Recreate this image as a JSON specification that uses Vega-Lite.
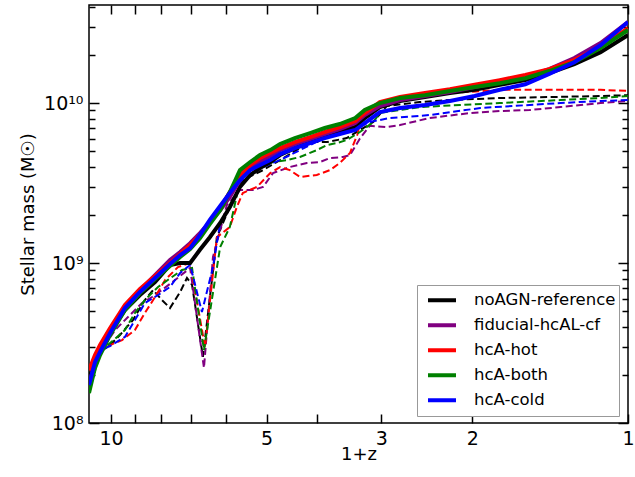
{
  "$schema": "https://vega.github.io/schema/vega-lite/v6.json",
  "width": 539,
  "height": 418,
  "autosize": {"type": "none"},
  "padding": {"left": 89, "top": 5, "right": 7, "bottom": 54},
  "background": "white",
  "config": {"view": {"stroke": "black", "strokeWidth": 1.5}, "font": "DejaVu Sans"},
  "datasets": {
    "curves": [
      {"model":"noAGN-reference","line":"solid","z1":11.03,"mass":1.86e8},
      {"model":"noAGN-reference","line":"solid","z1":10.74,"mass":2.47e8},
      {"model":"noAGN-reference","line":"solid","z1":10.50,"mass":2.86e8},
      {"model":"noAGN-reference","line":"solid","z1":10.04,"mass":3.70e8},
      {"model":"noAGN-reference","line":"solid","z1":9.40,"mass":5.08e8},
      {"model":"noAGN-reference","line":"solid","z1":8.79,"mass":6.31e8},
      {"model":"noAGN-reference","line":"solid","z1":8.22,"mass":7.61e8},
      {"model":"noAGN-reference","line":"solid","z1":7.69,"mass":9.72e8},
      {"model":"noAGN-reference","line":"solid","z1":7.35,"mass":1.00e9},
      {"model":"noAGN-reference","line":"solid","z1":7.03,"mass":1.00e9},
      {"model":"noAGN-reference","line":"solid","z1":6.73,"mass":1.21e9},
      {"model":"noAGN-reference","line":"solid","z1":6.44,"mass":1.45e9},
      {"model":"noAGN-reference","line":"solid","z1":6.15,"mass":1.78e9},
      {"model":"noAGN-reference","line":"solid","z1":5.89,"mass":2.24e9},
      {"model":"noAGN-reference","line":"solid","z1":5.63,"mass":2.99e9},
      {"model":"noAGN-reference","line":"solid","z1":5.38,"mass":3.55e9},
      {"model":"noAGN-reference","line":"solid","z1":5.15,"mass":3.92e9},
      {"model":"noAGN-reference","line":"solid","z1":4.92,"mass":4.28e9},
      {"model":"noAGN-reference","line":"solid","z1":4.71,"mass":4.73e9},
      {"model":"noAGN-reference","line":"solid","z1":4.41,"mass":5.23e9},
      {"model":"noAGN-reference","line":"solid","z1":4.12,"mass":5.70e9},
      {"model":"noAGN-reference","line":"solid","z1":3.86,"mass":6.13e9},
      {"model":"noAGN-reference","line":"solid","z1":3.61,"mass":6.59e9},
      {"model":"noAGN-reference","line":"solid","z1":3.37,"mass":7.08e9},
      {"model":"noAGN-reference","line":"solid","z1":3.23,"mass":8.06e9},
      {"model":"noAGN-reference","line":"solid","z1":3.02,"mass":9.44e9},
      {"model":"noAGN-reference","line":"solid","z1":2.76,"mass":1.03e10},
      {"model":"noAGN-reference","line":"solid","z1":2.47,"mass":1.09e10},
      {"model":"noAGN-reference","line":"solid","z1":2.21,"mass":1.155e10},
      {"model":"noAGN-reference","line":"solid","z1":1.98,"mass":1.21e10},
      {"model":"noAGN-reference","line":"solid","z1":1.77,"mass":1.30e10},
      {"model":"noAGN-reference","line":"solid","z1":1.58,"mass":1.39e10},
      {"model":"noAGN-reference","line":"solid","z1":1.42,"mass":1.54e10},
      {"model":"noAGN-reference","line":"solid","z1":1.27,"mass":1.75e10},
      {"model":"noAGN-reference","line":"solid","z1":1.13,"mass":2.08e10},
      {"model":"noAGN-reference","line":"solid","z1":1.00,"mass":2.66e10},

      {"model":"fiducial-hcAL-cf","line":"solid","z1":11.03,"mass":1.73e8},
      {"model":"fiducial-hcAL-cf","line":"solid","z1":10.74,"mass":2.40e8},
      {"model":"fiducial-hcAL-cf","line":"solid","z1":10.50,"mass":2.86e8},
      {"model":"fiducial-hcAL-cf","line":"solid","z1":10.04,"mass":3.81e8},
      {"model":"fiducial-hcAL-cf","line":"solid","z1":9.40,"mass":5.31e8},
      {"model":"fiducial-hcAL-cf","line":"solid","z1":8.79,"mass":6.78e8},
      {"model":"fiducial-hcAL-cf","line":"solid","z1":8.22,"mass":8.41e8},
      {"model":"fiducial-hcAL-cf","line":"solid","z1":7.69,"mass":1.044e9},
      {"model":"fiducial-hcAL-cf","line":"solid","z1":7.35,"mass":1.17e9},
      {"model":"fiducial-hcAL-cf","line":"solid","z1":7.03,"mass":1.33e9},
      {"model":"fiducial-hcAL-cf","line":"solid","z1":6.73,"mass":1.54e9},
      {"model":"fiducial-hcAL-cf","line":"solid","z1":6.44,"mass":1.80e9},
      {"model":"fiducial-hcAL-cf","line":"solid","z1":6.15,"mass":2.14e9},
      {"model":"fiducial-hcAL-cf","line":"solid","z1":5.89,"mass":2.59e9},
      {"model":"fiducial-hcAL-cf","line":"solid","z1":5.63,"mass":3.30e9},
      {"model":"fiducial-hcAL-cf","line":"solid","z1":5.38,"mass":3.92e9},
      {"model":"fiducial-hcAL-cf","line":"solid","z1":5.15,"mass":4.28e9},
      {"model":"fiducial-hcAL-cf","line":"solid","z1":4.92,"mass":4.66e9},
      {"model":"fiducial-hcAL-cf","line":"solid","z1":4.71,"mass":5.08e9},
      {"model":"fiducial-hcAL-cf","line":"solid","z1":4.41,"mass":5.54e9},
      {"model":"fiducial-hcAL-cf","line":"solid","z1":4.12,"mass":5.96e9},
      {"model":"fiducial-hcAL-cf","line":"solid","z1":3.86,"mass":6.40e9},
      {"model":"fiducial-hcAL-cf","line":"solid","z1":3.61,"mass":6.88e9},
      {"model":"fiducial-hcAL-cf","line":"solid","z1":3.37,"mass":7.50e9},
      {"model":"fiducial-hcAL-cf","line":"solid","z1":3.23,"mass":8.41e9},
      {"model":"fiducial-hcAL-cf","line":"solid","z1":3.02,"mass":9.58e9},
      {"model":"fiducial-hcAL-cf","line":"solid","z1":2.76,"mass":1.044e10},
      {"model":"fiducial-hcAL-cf","line":"solid","z1":2.47,"mass":1.106e10},
      {"model":"fiducial-hcAL-cf","line":"solid","z1":2.21,"mass":1.17e10},
      {"model":"fiducial-hcAL-cf","line":"solid","z1":1.98,"mass":1.26e10},
      {"model":"fiducial-hcAL-cf","line":"solid","z1":1.77,"mass":1.35e10},
      {"model":"fiducial-hcAL-cf","line":"solid","z1":1.58,"mass":1.45e10},
      {"model":"fiducial-hcAL-cf","line":"solid","z1":1.42,"mass":1.63e10},
      {"model":"fiducial-hcAL-cf","line":"solid","z1":1.27,"mass":1.91e10},
      {"model":"fiducial-hcAL-cf","line":"solid","z1":1.13,"mass":2.37e10},
      {"model":"fiducial-hcAL-cf","line":"solid","z1":1.00,"mass":3.21e10},

      {"model":"hcA-hot","line":"solid","z1":11.03,"mass":2.14e8},
      {"model":"hcA-hot","line":"solid","z1":10.74,"mass":2.66e8},
      {"model":"hcA-hot","line":"solid","z1":10.50,"mass":3.07e8},
      {"model":"hcA-hot","line":"solid","z1":10.04,"mass":3.92e8},
      {"model":"hcA-hot","line":"solid","z1":9.40,"mass":5.46e8},
      {"model":"hcA-hot","line":"solid","z1":8.79,"mass":6.88e8},
      {"model":"hcA-hot","line":"solid","z1":8.22,"mass":8.29e8},
      {"model":"hcA-hot","line":"solid","z1":7.69,"mass":1.00e9},
      {"model":"hcA-hot","line":"solid","z1":7.35,"mass":1.138e9},
      {"model":"hcA-hot","line":"solid","z1":7.03,"mass":1.296e9},
      {"model":"hcA-hot","line":"solid","z1":6.73,"mass":1.50e9},
      {"model":"hcA-hot","line":"solid","z1":6.44,"mass":1.80e9},
      {"model":"hcA-hot","line":"solid","z1":6.15,"mass":2.21e9},
      {"model":"hcA-hot","line":"solid","z1":5.89,"mass":2.78e9},
      {"model":"hcA-hot","line":"solid","z1":5.63,"mass":3.55e9},
      {"model":"hcA-hot","line":"solid","z1":5.38,"mass":4.10e9},
      {"model":"hcA-hot","line":"solid","z1":5.15,"mass":4.53e9},
      {"model":"hcA-hot","line":"solid","z1":4.92,"mass":4.87e9},
      {"model":"hcA-hot","line":"solid","z1":4.71,"mass":5.23e9},
      {"model":"hcA-hot","line":"solid","z1":4.41,"mass":5.70e9},
      {"model":"hcA-hot","line":"solid","z1":4.12,"mass":6.13e9},
      {"model":"hcA-hot","line":"solid","z1":3.86,"mass":6.59e9},
      {"model":"hcA-hot","line":"solid","z1":3.61,"mass":7.08e9},
      {"model":"hcA-hot","line":"solid","z1":3.37,"mass":7.72e9},
      {"model":"hcA-hot","line":"solid","z1":3.23,"mass":8.66e9},
      {"model":"hcA-hot","line":"solid","z1":3.02,"mass":1.014e10},
      {"model":"hcA-hot","line":"solid","z1":2.76,"mass":1.09e10},
      {"model":"hcA-hot","line":"solid","z1":2.47,"mass":1.155e10},
      {"model":"hcA-hot","line":"solid","z1":2.21,"mass":1.22e10},
      {"model":"hcA-hot","line":"solid","z1":1.98,"mass":1.30e10},
      {"model":"hcA-hot","line":"solid","z1":1.77,"mass":1.39e10},
      {"model":"hcA-hot","line":"solid","z1":1.58,"mass":1.50e10},
      {"model":"hcA-hot","line":"solid","z1":1.42,"mass":1.63e10},
      {"model":"hcA-hot","line":"solid","z1":1.27,"mass":1.86e10},
      {"model":"hcA-hot","line":"solid","z1":1.13,"mass":2.24e10},
      {"model":"hcA-hot","line":"solid","z1":1.00,"mass":2.94e10},

      {"model":"hcA-both","line":"solid","z1":11.03,"mass":1.54e8},
      {"model":"hcA-both","line":"solid","z1":10.74,"mass":2.21e8},
      {"model":"hcA-both","line":"solid","z1":10.50,"mass":2.66e8},
      {"model":"hcA-both","line":"solid","z1":10.04,"mass":3.55e8},
      {"model":"hcA-both","line":"solid","z1":9.40,"mass":5.08e8},
      {"model":"hcA-both","line":"solid","z1":8.79,"mass":6.49e8},
      {"model":"hcA-both","line":"solid","z1":8.22,"mass":7.94e8},
      {"model":"hcA-both","line":"solid","z1":7.69,"mass":9.58e8},
      {"model":"hcA-both","line":"solid","z1":7.35,"mass":1.09e9},
      {"model":"hcA-both","line":"solid","z1":7.03,"mass":1.223e9},
      {"model":"hcA-both","line":"solid","z1":6.73,"mass":1.43e9},
      {"model":"hcA-both","line":"solid","z1":6.44,"mass":1.75e9},
      {"model":"hcA-both","line":"solid","z1":6.15,"mass":2.14e9},
      {"model":"hcA-both","line":"solid","z1":5.89,"mass":2.78e9},
      {"model":"hcA-both","line":"solid","z1":5.63,"mass":3.81e9},
      {"model":"hcA-both","line":"solid","z1":5.38,"mass":4.28e9},
      {"model":"hcA-both","line":"solid","z1":5.15,"mass":4.73e9},
      {"model":"hcA-both","line":"solid","z1":4.92,"mass":5.08e9},
      {"model":"hcA-both","line":"solid","z1":4.71,"mass":5.54e9},
      {"model":"hcA-both","line":"solid","z1":4.41,"mass":6.04e9},
      {"model":"hcA-both","line":"solid","z1":4.12,"mass":6.49e9},
      {"model":"hcA-both","line":"solid","z1":3.86,"mass":6.98e9},
      {"model":"hcA-both","line":"solid","z1":3.61,"mass":7.39e9},
      {"model":"hcA-both","line":"solid","z1":3.37,"mass":8.06e9},
      {"model":"hcA-both","line":"solid","z1":3.23,"mass":9.04e9},
      {"model":"hcA-both","line":"solid","z1":3.02,"mass":1.00e10},
      {"model":"hcA-both","line":"solid","z1":2.76,"mass":1.075e10},
      {"model":"hcA-both","line":"solid","z1":2.47,"mass":1.12e10},
      {"model":"hcA-both","line":"solid","z1":2.21,"mass":1.19e10},
      {"model":"hcA-both","line":"solid","z1":1.98,"mass":1.26e10},
      {"model":"hcA-both","line":"solid","z1":1.77,"mass":1.33e10},
      {"model":"hcA-both","line":"solid","z1":1.58,"mass":1.43e10},
      {"model":"hcA-both","line":"solid","z1":1.42,"mass":1.585e10},
      {"model":"hcA-both","line":"solid","z1":1.27,"mass":1.80e10},
      {"model":"hcA-both","line":"solid","z1":1.13,"mass":2.21e10},
      {"model":"hcA-both","line":"solid","z1":1.00,"mass":2.86e10},

      {"model":"hcA-cold","line":"solid","z1":11.03,"mass":1.73e8},
      {"model":"hcA-cold","line":"solid","z1":10.74,"mass":2.40e8},
      {"model":"hcA-cold","line":"solid","z1":10.50,"mass":2.78e8},
      {"model":"hcA-cold","line":"solid","z1":10.04,"mass":3.65e8},
      {"model":"hcA-cold","line":"solid","z1":9.40,"mass":5.23e8},
      {"model":"hcA-cold","line":"solid","z1":8.79,"mass":6.59e8},
      {"model":"hcA-cold","line":"solid","z1":8.22,"mass":8.06e8},
      {"model":"hcA-cold","line":"solid","z1":7.69,"mass":9.86e8},
      {"model":"hcA-cold","line":"solid","z1":7.35,"mass":1.122e9},
      {"model":"hcA-cold","line":"solid","z1":7.03,"mass":1.24e9},
      {"model":"hcA-cold","line":"solid","z1":6.73,"mass":1.50e9},
      {"model":"hcA-cold","line":"solid","z1":6.44,"mass":1.86e9},
      {"model":"hcA-cold","line":"solid","z1":6.15,"mass":2.27e9},
      {"model":"hcA-cold","line":"solid","z1":5.89,"mass":2.74e9},
      {"model":"hcA-cold","line":"solid","z1":5.63,"mass":3.30e9},
      {"model":"hcA-cold","line":"solid","z1":5.38,"mass":3.81e9},
      {"model":"hcA-cold","line":"solid","z1":5.15,"mass":4.10e9},
      {"model":"hcA-cold","line":"solid","z1":4.92,"mass":4.40e9},
      {"model":"hcA-cold","line":"solid","z1":4.71,"mass":4.80e9},
      {"model":"hcA-cold","line":"solid","z1":4.41,"mass":5.23e9},
      {"model":"hcA-cold","line":"solid","z1":4.12,"mass":5.62e9},
      {"model":"hcA-cold","line":"solid","z1":3.86,"mass":6.04e9},
      {"model":"hcA-cold","line":"solid","z1":3.61,"mass":6.40e9},
      {"model":"hcA-cold","line":"solid","z1":3.37,"mass":6.78e9},
      {"model":"hcA-cold","line":"solid","z1":3.23,"mass":7.50e9},
      {"model":"hcA-cold","line":"solid","z1":3.02,"mass":8.78e9},
      {"model":"hcA-cold","line":"solid","z1":2.76,"mass":9.31e9},
      {"model":"hcA-cold","line":"solid","z1":2.47,"mass":9.72e9},
      {"model":"hcA-cold","line":"solid","z1":2.21,"mass":1.03e10},
      {"model":"hcA-cold","line":"solid","z1":1.98,"mass":1.106e10},
      {"model":"hcA-cold","line":"solid","z1":1.77,"mass":1.21e10},
      {"model":"hcA-cold","line":"solid","z1":1.58,"mass":1.31e10},
      {"model":"hcA-cold","line":"solid","z1":1.42,"mass":1.52e10},
      {"model":"hcA-cold","line":"solid","z1":1.27,"mass":1.80e10},
      {"model":"hcA-cold","line":"solid","z1":1.13,"mass":2.30e10},
      {"model":"hcA-cold","line":"solid","z1":1.00,"mass":3.21e10},

      {"model":"noAGN-reference","line":"dashed","z1":11.03,"mass":1.86e8},
      {"model":"noAGN-reference","line":"dashed","z1":10.50,"mass":2.78e8},
      {"model":"noAGN-reference","line":"dashed","z1":10.04,"mass":3.07e8},
      {"model":"noAGN-reference","line":"dashed","z1":9.61,"mass":3.55e8},
      {"model":"noAGN-reference","line":"dashed","z1":9.07,"mass":4.40e8},
      {"model":"noAGN-reference","line":"dashed","z1":8.60,"mass":5.87e8},
      {"model":"noAGN-reference","line":"dashed","z1":8.29,"mass":6.78e8},
      {"model":"noAGN-reference","line":"dashed","z1":7.97,"mass":5.87e8},
      {"model":"noAGN-reference","line":"dashed","z1":7.69,"mass":5.23e8},
      {"model":"noAGN-reference","line":"dashed","z1":7.35,"mass":6.59e8},
      {"model":"noAGN-reference","line":"dashed","z1":7.13,"mass":8.06e8},
      {"model":"noAGN-reference","line":"dashed","z1":6.97,"mass":7.29e8},
      {"model":"noAGN-reference","line":"dashed","z1":6.64,"mass":2.59e8},
      {"model":"noAGN-reference","line":"dashed","z1":6.24,"mass":1.45e9},
      {"model":"noAGN-reference","line":"dashed","z1":5.89,"mass":2.24e9},
      {"model":"noAGN-reference","line":"dashed","z1":5.56,"mass":3.30e9},
      {"model":"noAGN-reference","line":"dashed","z1":5.08,"mass":3.81e9},
      {"model":"noAGN-reference","line":"dashed","z1":4.71,"mass":4.40e9},
      {"model":"noAGN-reference","line":"dashed","z1":4.31,"mass":5.23e9},
      {"model":"noAGN-reference","line":"dashed","z1":4.07,"mass":5.70e9},
      {"model":"noAGN-reference","line":"dashed","z1":3.82,"mass":5.70e9},
      {"model":"noAGN-reference","line":"dashed","z1":3.50,"mass":6.04e9},
      {"model":"noAGN-reference","line":"dashed","z1":3.30,"mass":6.78e9},
      {"model":"noAGN-reference","line":"dashed","z1":3.11,"mass":7.61e9},
      {"model":"noAGN-reference","line":"dashed","z1":2.93,"mass":9.58e9},
      {"model":"noAGN-reference","line":"dashed","z1":2.53,"mass":1.014e10},
      {"model":"noAGN-reference","line":"dashed","z1":2.21,"mass":1.044e10},
      {"model":"noAGN-reference","line":"dashed","z1":1.77,"mass":1.075e10},
      {"model":"noAGN-reference","line":"dashed","z1":1.42,"mass":1.09e10},
      {"model":"noAGN-reference","line":"dashed","z1":1.13,"mass":1.106e10},
      {"model":"noAGN-reference","line":"dashed","z1":1.00,"mass":1.12e10},

      {"model":"fiducial-hcAL-cf","line":"dashed","z1":11.03,"mass":1.73e8},
      {"model":"fiducial-hcAL-cf","line":"dashed","z1":10.50,"mass":2.78e8},
      {"model":"fiducial-hcAL-cf","line":"dashed","z1":9.82,"mass":3.81e8},
      {"model":"fiducial-hcAL-cf","line":"dashed","z1":9.27,"mass":4.60e8},
      {"model":"fiducial-hcAL-cf","line":"dashed","z1":8.71,"mass":5.62e8},
      {"model":"fiducial-hcAL-cf","line":"dashed","z1":8.33,"mass":6.13e8},
      {"model":"fiducial-hcAL-cf","line":"dashed","z1":7.97,"mass":6.78e8},
      {"model":"fiducial-hcAL-cf","line":"dashed","z1":7.52,"mass":7.83e8},
      {"model":"fiducial-hcAL-cf","line":"dashed","z1":7.03,"mass":9.31e8},
      {"model":"fiducial-hcAL-cf","line":"dashed","z1":6.61,"mass":2.21e8},
      {"model":"fiducial-hcAL-cf","line":"dashed","z1":6.35,"mass":1.09e9},
      {"model":"fiducial-hcAL-cf","line":"dashed","z1":5.97,"mass":2.30e9},
      {"model":"fiducial-hcAL-cf","line":"dashed","z1":5.63,"mass":2.86e9},
      {"model":"fiducial-hcAL-cf","line":"dashed","z1":5.31,"mass":2.86e9},
      {"model":"fiducial-hcAL-cf","line":"dashed","z1":5.08,"mass":2.99e9},
      {"model":"fiducial-hcAL-cf","line":"dashed","z1":4.86,"mass":3.65e9},
      {"model":"fiducial-hcAL-cf","line":"dashed","z1":4.51,"mass":3.98e9},
      {"model":"fiducial-hcAL-cf","line":"dashed","z1":4.18,"mass":4.22e9},
      {"model":"fiducial-hcAL-cf","line":"dashed","z1":3.94,"mass":4.28e9},
      {"model":"fiducial-hcAL-cf","line":"dashed","z1":3.77,"mass":4.53e9},
      {"model":"fiducial-hcAL-cf","line":"dashed","z1":3.56,"mass":4.60e9},
      {"model":"fiducial-hcAL-cf","line":"dashed","z1":3.45,"mass":4.73e9},
      {"model":"fiducial-hcAL-cf","line":"dashed","z1":3.30,"mass":6.00e9},
      {"model":"fiducial-hcAL-cf","line":"dashed","z1":3.16,"mass":7.20e9},
      {"model":"fiducial-hcAL-cf","line":"dashed","z1":2.93,"mass":7.08e9},
      {"model":"fiducial-hcAL-cf","line":"dashed","z1":2.76,"mass":7.29e9},
      {"model":"fiducial-hcAL-cf","line":"dashed","z1":2.42,"mass":8.06e9},
      {"model":"fiducial-hcAL-cf","line":"dashed","z1":2.02,"mass":8.66e9},
      {"model":"fiducial-hcAL-cf","line":"dashed","z1":1.77,"mass":8.91e9},
      {"model":"fiducial-hcAL-cf","line":"dashed","z1":1.55,"mass":9.04e9},
      {"model":"fiducial-hcAL-cf","line":"dashed","z1":1.35,"mass":9.44e9},
      {"model":"fiducial-hcAL-cf","line":"dashed","z1":1.13,"mass":1.00e10},
      {"model":"fiducial-hcAL-cf","line":"dashed","z1":1.00,"mass":1.03e10},

      {"model":"hcA-hot","line":"dashed","z1":11.03,"mass":2.14e8},
      {"model":"hcA-hot","line":"dashed","z1":10.50,"mass":2.86e8},
      {"model":"hcA-hot","line":"dashed","z1":10.04,"mass":3.07e8},
      {"model":"hcA-hot","line":"dashed","z1":9.52,"mass":3.30e8},
      {"model":"hcA-hot","line":"dashed","z1":8.99,"mass":3.81e8},
      {"model":"hcA-hot","line":"dashed","z1":8.60,"mass":4.87e8},
      {"model":"hcA-hot","line":"dashed","z1":8.22,"mass":6.13e8},
      {"model":"hcA-hot","line":"dashed","z1":7.86,"mass":7.83e8},
      {"model":"hcA-hot","line":"dashed","z1":7.42,"mass":9.44e8},
      {"model":"hcA-hot","line":"dashed","z1":7.03,"mass":1.00e9},
      {"model":"hcA-hot","line":"dashed","z1":6.58,"mass":2.99e8},
      {"model":"hcA-hot","line":"dashed","z1":6.24,"mass":1.45e9},
      {"model":"hcA-hot","line":"dashed","z1":5.89,"mass":1.68e9},
      {"model":"hcA-hot","line":"dashed","z1":5.71,"mass":2.24e9},
      {"model":"hcA-hot","line":"dashed","z1":5.56,"mass":2.74e9},
      {"model":"hcA-hot","line":"dashed","z1":5.22,"mass":2.99e9},
      {"model":"hcA-hot","line":"dashed","z1":4.92,"mass":3.65e9},
      {"model":"hcA-hot","line":"dashed","z1":4.71,"mass":3.98e9},
      {"model":"hcA-hot","line":"dashed","z1":4.51,"mass":3.81e9},
      {"model":"hcA-hot","line":"dashed","z1":4.31,"mass":3.45e9},
      {"model":"hcA-hot","line":"dashed","z1":4.00,"mass":3.55e9},
      {"model":"hcA-hot","line":"dashed","z1":3.77,"mass":3.81e9},
      {"model":"hcA-hot","line":"dashed","z1":3.61,"mass":4.22e9},
      {"model":"hcA-hot","line":"dashed","z1":3.45,"mass":4.87e9},
      {"model":"hcA-hot","line":"dashed","z1":3.34,"mass":6.31e9},
      {"model":"hcA-hot","line":"dashed","z1":3.26,"mass":8.66e9},
      {"model":"hcA-hot","line":"dashed","z1":3.02,"mass":1.00e10},
      {"model":"hcA-hot","line":"dashed","z1":2.76,"mass":1.075e10},
      {"model":"hcA-hot","line":"dashed","z1":2.21,"mass":1.155e10},
      {"model":"hcA-hot","line":"dashed","z1":1.75,"mass":1.21e10},
      {"model":"hcA-hot","line":"dashed","z1":1.42,"mass":1.21e10},
      {"model":"hcA-hot","line":"dashed","z1":1.13,"mass":1.21e10},
      {"model":"hcA-hot","line":"dashed","z1":1.00,"mass":1.19e10},

      {"model":"hcA-both","line":"dashed","z1":11.03,"mass":1.54e8},
      {"model":"hcA-both","line":"dashed","z1":10.50,"mass":2.78e8},
      {"model":"hcA-both","line":"dashed","z1":10.04,"mass":3.16e8},
      {"model":"hcA-both","line":"dashed","z1":9.40,"mass":3.81e8},
      {"model":"hcA-both","line":"dashed","z1":8.99,"mass":4.87e8},
      {"model":"hcA-both","line":"dashed","z1":8.60,"mass":5.87e8},
      {"model":"hcA-both","line":"dashed","z1":8.11,"mass":7.08e8},
      {"model":"hcA-both","line":"dashed","z1":7.62,"mass":8.18e8},
      {"model":"hcA-both","line":"dashed","z1":7.29,"mass":9.04e8},
      {"model":"hcA-both","line":"dashed","z1":6.97,"mass":9.31e8},
      {"model":"hcA-both","line":"dashed","z1":6.61,"mass":2.86e8},
      {"model":"hcA-both","line":"dashed","z1":6.15,"mass":1.26e9},
      {"model":"hcA-both","line":"dashed","z1":5.89,"mass":1.68e9},
      {"model":"hcA-both","line":"dashed","z1":5.68,"mass":2.86e9},
      {"model":"hcA-both","line":"dashed","z1":5.46,"mass":3.81e9},
      {"model":"hcA-both","line":"dashed","z1":5.15,"mass":3.98e9},
      {"model":"hcA-both","line":"dashed","z1":4.86,"mass":4.28e9},
      {"model":"hcA-both","line":"dashed","z1":4.57,"mass":4.40e9},
      {"model":"hcA-both","line":"dashed","z1":4.31,"mass":4.60e9},
      {"model":"hcA-both","line":"dashed","z1":4.00,"mass":5.08e9},
      {"model":"hcA-both","line":"dashed","z1":3.82,"mass":5.46e9},
      {"model":"hcA-both","line":"dashed","z1":3.66,"mass":5.62e9},
      {"model":"hcA-both","line":"dashed","z1":3.50,"mass":5.87e9},
      {"model":"hcA-both","line":"dashed","z1":3.30,"mass":6.59e9},
      {"model":"hcA-both","line":"dashed","z1":3.11,"mass":7.61e9},
      {"model":"hcA-both","line":"dashed","z1":3.02,"mass":8.66e9},
      {"model":"hcA-both","line":"dashed","z1":2.53,"mass":9.44e9},
      {"model":"hcA-both","line":"dashed","z1":2.11,"mass":9.72e9},
      {"model":"hcA-both","line":"dashed","z1":1.77,"mass":1.00e10},
      {"model":"hcA-both","line":"dashed","z1":1.35,"mass":1.044e10},
      {"model":"hcA-both","line":"dashed","z1":1.13,"mass":1.075e10},
      {"model":"hcA-both","line":"dashed","z1":1.00,"mass":1.106e10},

      {"model":"hcA-cold","line":"dashed","z1":11.03,"mass":1.73e8},
      {"model":"hcA-cold","line":"dashed","z1":10.50,"mass":2.86e8},
      {"model":"hcA-cold","line":"dashed","z1":10.04,"mass":3.03e8},
      {"model":"hcA-cold","line":"dashed","z1":9.40,"mass":3.45e8},
      {"model":"hcA-cold","line":"dashed","z1":8.99,"mass":4.40e8},
      {"model":"hcA-cold","line":"dashed","z1":8.60,"mass":5.62e8},
      {"model":"hcA-cold","line":"dashed","z1":8.11,"mass":6.31e8},
      {"model":"hcA-cold","line":"dashed","z1":7.69,"mass":7.08e8},
      {"model":"hcA-cold","line":"dashed","z1":7.35,"mass":8.66e8},
      {"model":"hcA-cold","line":"dashed","z1":7.03,"mass":9.72e8},
      {"model":"hcA-cold","line":"dashed","z1":6.67,"mass":4.94e8},
      {"model":"hcA-cold","line":"dashed","z1":6.35,"mass":9.44e8},
      {"model":"hcA-cold","line":"dashed","z1":6.15,"mass":1.78e9},
      {"model":"hcA-cold","line":"dashed","z1":5.81,"mass":2.47e9},
      {"model":"hcA-cold","line":"dashed","z1":5.46,"mass":3.65e9},
      {"model":"hcA-cold","line":"dashed","z1":5.08,"mass":3.98e9},
      {"model":"hcA-cold","line":"dashed","z1":4.71,"mass":4.40e9},
      {"model":"hcA-cold","line":"dashed","z1":4.31,"mass":5.08e9},
      {"model":"hcA-cold","line":"dashed","z1":3.94,"mass":5.87e9},
      {"model":"hcA-cold","line":"dashed","z1":3.61,"mass":6.49e9},
      {"model":"hcA-cold","line":"dashed","z1":3.37,"mass":6.98e9},
      {"model":"hcA-cold","line":"dashed","z1":3.16,"mass":7.61e9},
      {"model":"hcA-cold","line":"dashed","z1":2.89,"mass":8.06e9},
      {"model":"hcA-cold","line":"dashed","z1":2.42,"mass":8.41e9},
      {"model":"hcA-cold","line":"dashed","z1":1.93,"mass":9.31e9},
      {"model":"hcA-cold","line":"dashed","z1":1.35,"mass":1.00e10},
      {"model":"hcA-cold","line":"dashed","z1":1.13,"mass":1.03e10},
      {"model":"hcA-cold","line":"dashed","z1":1.00,"mass":1.044e10}
    ]
  },
  "data": {"name": "curves"},
  "layer": [
    {
      "transform": [{"filter": "datum.line == 'dashed'"}],
      "mark": {"type": "line", "strokeWidth": 2, "strokeDash": [7, 3.5], "clip": true},
      "encoding": {
        "x": {"field": "z1", "type": "quantitative",
          "scale": {"type": "log", "domain": [1, 11.03], "reverse": true, "nice": false},
          "axis": {"orient": "top", "title": null, "labels": false, "domain": false, "grid": false,
            "values": [10, 9, 8, 7, 6, 5, 4, 3, 2, 1], "tickSize": -9, "tickWidth": 1.5, "tickColor": "black"}},
        "y": {"field": "mass", "type": "quantitative",
          "scale": {"type": "log", "domain": [100000000, 41000000000], "nice": false},
          "axis": {"orient": "right", "title": null, "labels": false, "domain": false, "grid": false,
            "values": [100000000, 200000000, 300000000, 400000000, 500000000, 600000000, 700000000, 800000000, 900000000, 1000000000, 2000000000, 3000000000, 4000000000, 5000000000, 6000000000, 7000000000, 8000000000, 9000000000, 10000000000, 20000000000, 30000000000, 40000000000],
            "tickSize": {"condition": {"test": "datum.value == 100000000 || datum.value == 1000000000 || datum.value == 10000000000", "value": -10}, "value": -6},
            "tickWidth": 1.5, "tickColor": "black"}},
        "color": {"field": "model", "type": "nominal", "legend": null,
          "scale": {"domain": ["noAGN-reference", "fiducial-hcAL-cf", "hcA-hot", "hcA-both", "hcA-cold"],
                    "range": ["#000000", "#800080", "#ff0000", "#008000", "#0000ff"]}}
      }
    },
    {
      "transform": [{"filter": "datum.line == 'solid'"}],
      "mark": {"type": "line", "strokeWidth": 4, "clip": true},
      "encoding": {
        "x": {"field": "z1", "type": "quantitative",
          "scale": {"type": "log", "domain": [1, 11.03], "reverse": true, "nice": false},
          "axis": {"orient": "bottom", "title": "1+z", "domain": false, "grid": false,
            "values": [10, 9, 8, 7, 6, 5, 4, 3, 2, 1],
            "labelExpr": "datum.value == 10 || datum.value == 5 || datum.value == 3 || datum.value == 2 || datum.value == 1 ? '' + datum.value : ''",
            "labelOverlap": false, "labelFlush": false, "labelBound": false,
            "tickSize": -9, "tickWidth": 1.5, "tickColor": "black",
            "labelFontSize": 19, "labelColor": "black", "labelFont": "DejaVu Sans", "labelPadding": 15,
            "titleFontSize": 18, "titleFontWeight": "normal", "titleColor": "black", "titleFont": "DejaVu Sans", "titlePadding": -3}},
        "y": {"field": "mass", "type": "quantitative",
          "scale": {"type": "log", "domain": [100000000, 41000000000], "nice": false},
          "axis": {"orient": "left", "title": "Stellar mass (M☉)", "domain": false, "grid": false,
            "values": [100000000, 200000000, 300000000, 400000000, 500000000, 600000000, 700000000, 800000000, 900000000, 1000000000, 2000000000, 3000000000, 4000000000, 5000000000, 6000000000, 7000000000, 8000000000, 9000000000, 10000000000, 20000000000, 30000000000, 40000000000],
            "labelExpr": "datum.value == 100000000 ? '10⁸' : datum.value == 1000000000 ? '10⁹' : datum.value == 10000000000 ? '10¹⁰' : ''",
            "labelOverlap": false, "labelFlush": false, "labelBound": false,
            "tickSize": {"condition": {"test": "datum.value == 100000000 || datum.value == 1000000000 || datum.value == 10000000000", "value": -10}, "value": -6},
            "tickWidth": 1.5, "tickColor": "black",
            "labelFontSize": 19, "labelColor": "black", "labelFont": "DejaVu Sans", "labelPadding": 16,
            "titleFontSize": 18, "titleFontWeight": "normal", "titleColor": "black", "titleFont": "DejaVu Sans", "titlePadding": 6}},
        "color": {"field": "model", "type": "nominal",
          "scale": {"domain": ["noAGN-reference", "fiducial-hcAL-cf", "hcA-hot", "hcA-both", "hcA-cold"],
                    "range": ["#000000", "#800080", "#ff0000", "#008000", "#0000ff"]},
          "legend": {"orient": "none", "legendX": 328, "legendY": 280, "title": null,
            "symbolType": "stroke", "symbolStrokeWidth": 4, "symbolSize": 784,
            "labelFontSize": 16.5, "labelFont": "DejaVu Sans", "labelColor": "black", "labelOffset": 16,
            "padding": 3, "symbolOffset": 6, "clipHeight": 24.5, "rowPadding": 0,
            "strokeColor": "#999999", "fillColor": "white", "cornerRadius": 0, "labelLimit": 300}}
      }
    }
  ],
  "resolve": {"axis": {"x": "independent", "y": "independent"}, "legend": {"color": "independent"}}
}
